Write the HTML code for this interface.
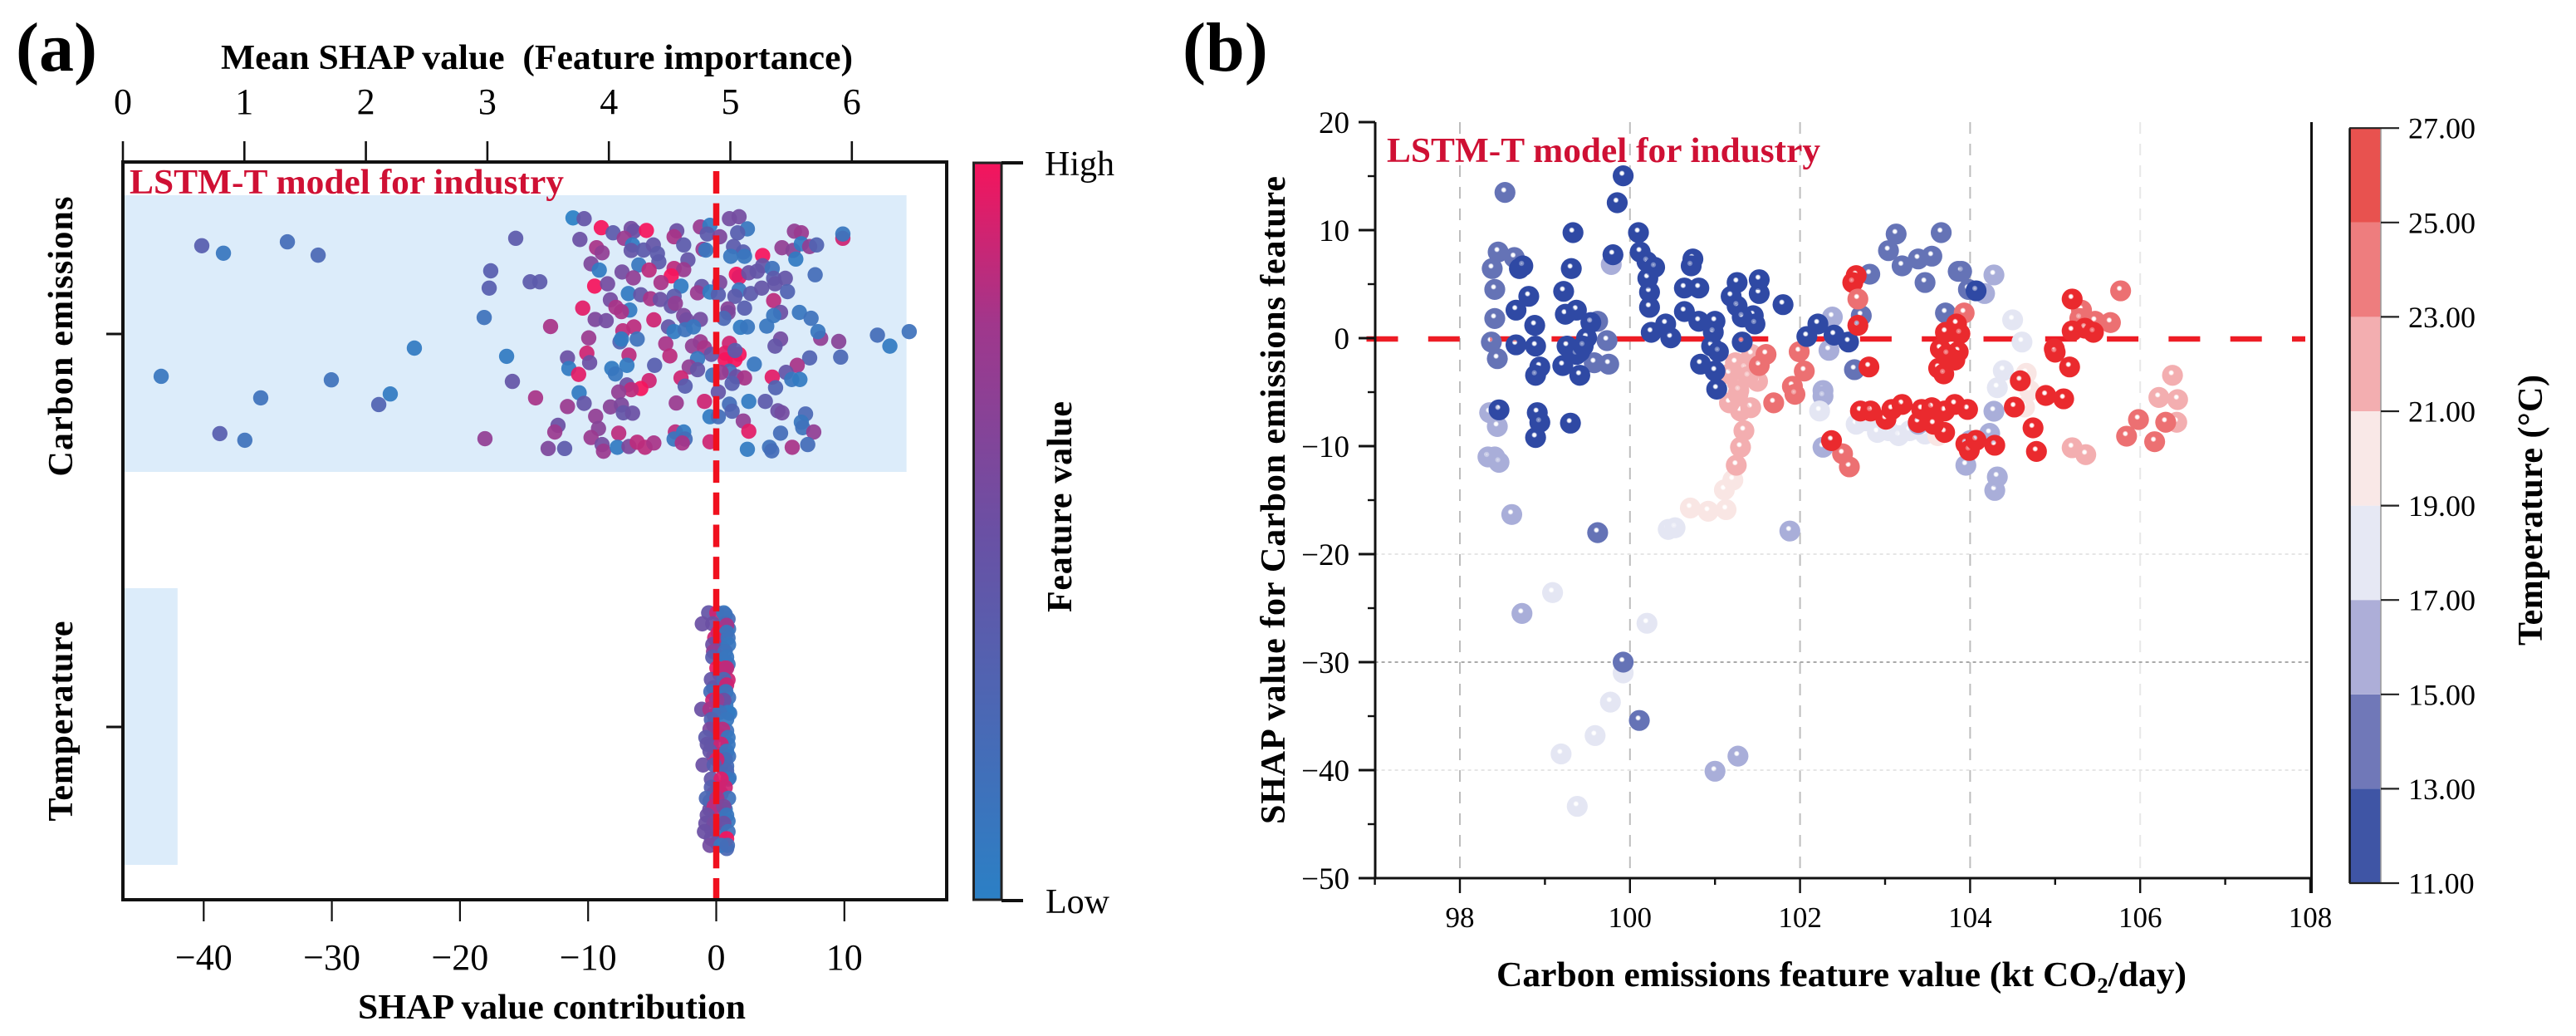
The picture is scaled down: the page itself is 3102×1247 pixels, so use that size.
<!DOCTYPE html>
<html lang="en">
<head>
<meta charset="utf-8">
<title>SHAP summary and dependence plots</title>
<style>
html,body{margin:0;padding:0;background:#fff;}
svg{display:block;font-family:"Liberation Serif",serif;}
.b{font-weight:bold;}
</style>
</head>
<body>
<svg id="fig" xmlns="http://www.w3.org/2000/svg" width="3102" height="1247" viewBox="0 0 3102 1247">
<defs id="defs">
<linearGradient id="featureGrad" x1="0" y1="1" x2="0" y2="0">
<stop offset="0" stop-color="#2b80c5"/>
<stop offset="0.5" stop-color="#6a50a4"/>
<stop offset="0.78" stop-color="#a0378c"/>
<stop offset="1" stop-color="#f5145c"/>
</linearGradient>
</defs>
<rect width="3102" height="1247" fill="#fff"/>

<text class="b" x="19" y="85" font-size="84">(a)</text>
<text class="b" x="1424" y="85" font-size="84">(b)</text>

<g id="panelA"></g>
<g id="panelB"></g>

<text class="b" x="266" y="83" font-size="42" textLength="761" lengthAdjust="spacingAndGlyphs">Mean SHAP value&#160;&#160;(Feature importance)</text>
<text class="b" x="431" y="1226" font-size="42" textLength="467" lengthAdjust="spacingAndGlyphs">SHAP value contribution</text>
<text class="b" transform="translate(1290,737) rotate(-90)" font-size="42" textLength="254" lengthAdjust="spacing">Feature value</text>
<text x="1258" y="211" font-size="42">High</text>
<text x="1259" y="1099" font-size="42">Low</text>
<text class="b" x="156" y="233" font-size="42" fill="#cf1034" textLength="523" lengthAdjust="spacingAndGlyphs">LSTM-T model for industry</text>

<text class="b" x="1670" y="195" font-size="42" fill="#cf1034" textLength="522" lengthAdjust="spacingAndGlyphs">LSTM-T model for industry</text>
<text class="b" x="1802" y="1187" font-size="42" textLength="831" lengthAdjust="spacingAndGlyphs">Carbon emissions feature value (kt CO<tspan font-size="26" dy="8">2</tspan><tspan dy="-8">/day)</tspan></text>
<text class="b" transform="translate(1547,992) rotate(-90)" font-size="42" textLength="780" lengthAdjust="spacing">SHAP value for Carbon emissions feature</text>
<text class="b" transform="translate(3061,777) rotate(-90)" font-size="42" textLength="326" lengthAdjust="spacing">Temperature (°C)</text>
</svg>

<script>
// ---------- Panel (a) data ----------
const categories = ['Carbon emissions', 'Temperature'];
const meanShapValues = [6.45, 0.45];
const meanAxisTicks = [0, 1, 2, 3, 4, 5, 6];
const shapAxisTicks = [-40, -30, -20, -10, 0, 10];

const carbonShap = [
-40.15,-38.46,-33.47,-31.07,-15.65,-17.60,-17.72,-14.52,-13.77,-18.11,-12.93,-23.56,-16.36,-30.04,-15.91,-25.44,-26.34,-14.10,-43.32,-35.55,-38.74,-36.79,-18.05,-12.35,-13.12,-12.60,
-11.18,-10.31,-8.97,-8.05,-10.64,-6.64,-6.43,-7.18,-5.45,-3.08,-3.29,-1.24,-0.49,-0.70,0.27,-2.54,1.03,1.78,2.43,1.67,6.10,6.64,9.88,9.88,
-9.34,-8.91,-6.53,-6.64,-5.67,-4.91,-4.59,-1.03,-0.81,1.35,2.11,1.13,2.21,3.62,5.13,5.99,6.64,7.29,7.83,6.21,-2.21,-4.48,
-9.77,-9.13,-7.35,-6.04,-5.24,-3.29,-2.54,-3.51,-6.47,1.57,1.78,2.54,3.19,3.62,4.37,7.72,4.48,5.39,-4.31,-2.75,
-9.49,-8.48,-1.13,0.27,-1.46,-0.49,0.16,1.78,1.46,2.69,3.55,4.59,5.56,-6.86,-5.89,-5.13,-4.37,-3.29,-8.26,-7.83,
-3.51,-3.19,4.48,-6.75,-7.40,-10.42,0.92,2.21,0.92,0.59,5.02,4.48,6.49,7.40,3.94,-9.45,-8.59,-4.87,-2.54,-2.32,-1.24,
-3.73,-3.29,-2.43,-1.78,1.89,2.43,-6.43,-7.29,-9.95,-7.51,-7.40,-6.17,8.15,7.94,9.56,12.58,13.55,15.06,
-3.94,-1.24,-1.85,-0.92,1.03,5.02,4.59,-10.10,-6.81,-3.62,1.78,0.70,1.46,0.70,1.46,-0.38,-1.46,7.29,9.71,-11.61,-9.88,
-6.97,-8.15,-11.50,-4.81,2.97,6.32,5.45,-2.11,-1.46,-10.74,-7.87,1.03,-0.27,0.38,1.57,2.21,4.37,-2.75,5.89,6.53,
-5.24,-6.97,-5.89,-6.64,-7.61,-2.43,1.24,4.63,-10.70,0.16,
-11.61,-10.31,-3.12,-0.92,1.03,2.54,3.83,-8.26,-7.40,-7.25,-6.53,4.81,5.13,1.24,-0.49,0.16,6.97,
-9.41,2.11,6.64,6.75,-9.19,-9.77,-7.61,2.54,5.02,7.61,-3.19,-2.54,-3.29,-2.43,-2.65,-0.49,
-8.91,-8.80,-7.72,-6.81,-6.17,-5.56,-4.87,-11.83,2.43,4.16,4.33,5.93,7.14
];
const carbonJitter = [
-0.225,-0.206,-0.235,-0.201,-0.244,-0.161,-0.117,-0.133,-0.133,-0.042,-0.019,0.036,0.057,0.117,0.121,0.153,0.180,0.163,0.108,0.163,0.254,0.271,0.267,0.233,0.292,0.250,
-0.296,-0.294,-0.271,-0.258,-0.241,-0.269,-0.262,-0.244,-0.264,-0.263,-0.248,-0.273,-0.277,-0.255,-0.248,-0.227,-0.294,-0.299,-0.268,-0.258,-0.262,-0.258,-0.244,-0.255,
-0.220,-0.207,-0.227,-0.213,-0.214,-0.227,-0.205,-0.216,-0.214,-0.223,-0.209,-0.198,-0.198,-0.200,-0.220,-0.213,-0.230,-0.223,-0.227,-0.191,-0.189,-0.184,
-0.179,-0.163,-0.158,-0.176,-0.163,-0.167,-0.164,-0.148,-0.143,-0.152,-0.145,-0.156,-0.160,-0.174,-0.167,-0.151,-0.142,-0.142,-0.131,-0.122,
-0.122,-0.128,-0.121,-0.131,-0.105,-0.107,-0.100,-0.112,-0.096,-0.103,-0.117,-0.128,-0.108,-0.103,-0.100,-0.090,-0.088,-0.096,-0.087,-0.068,
-0.071,-0.078,-0.085,-0.061,-0.057,-0.066,-0.064,-0.066,-0.054,-0.040,-0.055,-0.047,-0.055,-0.040,-0.020,-0.037,-0.034,-0.036,-0.047,-0.036,-0.037,
-0.018,-0.006,-0.011,-0.018,-0.017,-0.018,-0.018,-0.008,0.010,0.020,0.013,0.013,0.011,-0.006,0.019,0.003,0.031,-0.006,
0.025,0.020,0.031,0.035,0.024,0.013,0.031,0.049,0.054,0.056,0.052,0.049,0.066,0.066,0.042,0.052,0.063,0.061,0.059,0.061,0.073,
0.080,0.088,0.088,0.080,0.077,0.080,0.098,0.084,0.091,0.103,0.102,0.095,0.105,0.098,0.109,0.112,0.110,0.112,0.116,0.116,
0.119,0.130,0.139,0.142,0.148,0.133,0.126,0.137,0.150,0.148,
0.185,0.177,0.176,0.172,0.179,0.172,0.172,0.186,0.181,0.201,0.202,0.196,0.201,0.197,0.211,0.211,0.204,
0.210,0.222,0.225,0.239,0.241,0.264,0.253,0.248,0.253,0.250,0.250,0.250,0.268,0.268,0.278,0.275,
0.282,0.299,0.289,0.287,0.276,0.289,0.278,0.292,0.294,0.289,0.298,0.289,0.282
];
const carbonFeature = [
0.35,0.10,0.20,0.25,0.40,0.35,0.35,0.40,0.40,0.15,0.80,0.05,0.05,0.15,0.45,0.05,0.30,0.80,0.10,0.15,0.35,0.15,0.70,0.50,0.60,0.75,
0.00,0.45,1.00,0.40,0.50,0.55,0.50,0.75,1.00,0.50,0.80,0.75,0.05,0.40,0.60,0.40,0.55,0.55,0.10,0.35,0.70,0.75,0.90,0.10,
0.80,0.70,0.05,0.45,0.40,0.45,0.40,0.75,0.10,0.40,0.35,0.10,0.10,1.00,0.70,0.65,0.05,0.70,0.30,0.05,0.45,0.40,
0.60,0.05,0.55,0.10,0.85,0.85,0.75,1.00,0.70,1.00,0.95,0.50,0.45,0.45,0.15,0.20,0.40,0.45,0.80,0.05,
1.00,0.55,0.45,0.60,0.75,0.05,0.35,0.10,0.40,0.40,0.45,0.45,0.30,0.05,0.45,0.80,0.50,0.40,0.55,0.80,
0.45,0.70,0.85,0.05,0.80,0.95,0.65,0.35,0.60,0.25,0.50,0.10,0.10,0.15,0.10,0.60,0.55,0.90,0.60,0.55,0.55,
0.45,0.05,0.15,0.10,0.05,0.10,0.85,0.85,0.75,0.30,0.05,0.15,0.70,0.10,0.65,0.20,0.05,0.15,
0.80,0.75,0.70,0.80,0.90,0.55,0.45,0.90,0.85,0.85,1.00,0.95,1.00,1.00,0.40,0.45,0.10,0.30,0.25,0.50,0.50,
0.05,0.05,0.05,0.35,0.10,0.80,0.45,0.70,0.45,0.95,0.10,0.20,0.15,0.75,0.50,0.80,0.95,0.90,0.10,0.05,
0.90,0.50,1.00,0.85,0.70,0.35,0.35,0.30,0.05,0.45,
0.75,0.45,0.75,0.90,0.20,0.05,0.40,0.65,0.60,0.45,0.50,0.50,0.55,0.30,0.05,0.20,0.25,
0.70,0.70,0.10,0.15,0.65,0.75,0.85,0.95,0.20,0.70,0.85,0.05,0.10,0.20,0.80,0.90,
0.55,0.75,0.05,0.60,0.85,0.85,0.80,0.40,0.05,0.15,0.20,0.80,0.20
];

const tempShap = [
0.92,0.96,0.27,0.49,0.38,0.92,0.27,0.92,0.38,-0.20,0.96,0.38,0.75,1.05,-0.16,-0.20,0.81,0.16,0.92,-0.38,0.38,0.96,-0.20,0.81,0.38,1.00,-0.20,0.38,0.30,-0.49,0.70,-0.50,0.92,-0.38,0.30,0.05,0.81,
-0.59,0.05,0.59,0.70,-1.09,-0.27,0.70,0.81,0.16,0.81,-0.12,0.92,-0.27,0.96,-0.21,0.70,-0.27,0.81,0.70,0.05,0.70,0.81,-0.38,0.59,0.81,-0.42,0.75,0.59,-0.27,0.05,-1.13,-0.49,0.92,0.27,0.81,-0.38,-0.49,0.49,0.92,-0.81,-0.70,0.38,0.81,-0.49,0.70,0.05,-1.03,-0.16,0.81,0.92,-0.38,0.38,0.16,-0.38,0.70,-0.77,0.96,0.05,-0.16,0.59,0.81,-0.70,-0.81,-0.16,0.59,-0.92,0.92,0.81,-0.38,-0.49,0.38,0.87
];
const tempJitter = [
-0.275,-0.250,-0.220,-0.200,-0.175,-0.160,-0.135,-0.120,-0.105,-0.100,-0.075,-0.050,-0.055,-0.035,-0.030,-0.005,0.010,0.020,0.045,0.045,0.070,0.075,0.075,0.100,0.100,0.130,0.170,0.170,0.210,0.190,0.210,0.210,0.240,0.260,0.270,0.295,0.310,
-0.291,-0.291,-0.291,-0.287,-0.263,-0.263,-0.263,-0.259,-0.241,-0.241,-0.227,-0.227,-0.210,-0.210,-0.192,-0.192,-0.178,-0.178,-0.167,-0.150,-0.150,-0.150,-0.121,-0.121,-0.107,-0.090,-0.090,-0.068,-0.068,-0.068,-0.045,-0.045,-0.037,-0.037,-0.019,-0.019,0.006,0.006,0.027,0.027,0.044,0.044,0.062,0.062,0.083,0.083,0.097,0.097,0.112,0.133,0.133,0.133,0.154,0.154,0.154,0.182,0.182,0.182,0.203,0.203,0.225,0.225,0.246,0.246,0.246,0.267,0.267,0.285,0.285,0.302,0.302,0.302
];
const tempFeature = [
0.20,0.15,0.90,0.20,0.85,0.10,0.85,0.90,0.20,0.30,0.15,0.40,0.10,0.10,0.85,0.35,0.15,0.85,0.10,0.50,0.50,0.15,0.90,0.20,0.25,0.10,0.90,0.90,0.90,0.30,0.10,0.50,0.10,0.55,0.20,0.10,0.25,
0.45,0.90,0.10,0.15,0.50,0.50,0.20,0.80,0.95,0.10,0.90,0.15,0.50,0.10,0.70,0.15,0.35,0.10,0.10,0.95,0.95,0.85,0.45,0.25,0.90,0.20,0.10,0.50,0.90,0.70,0.50,0.80,0.05,0.15,0.10,0.30,0.60,0.85,0.10,0.40,0.45,0.90,0.10,0.45,0.20,0.90,0.50,0.35,0.25,0.10,0.45,0.95,0.95,0.35,0.90,0.25,0.15,0.80,0.85,0.60,0.10,0.50,0.50,0.55,0.50,0.50,0.15,1.00,0.50,0.55,0.10,0.20
];

// ---------- Panel (b) data ----------
const featureTicksMajor = [98, 100, 102, 104, 106, 108];
const featureTicksMinor = [97, 99, 101, 103, 105, 107];
const featureGrid = [98, 100, 102, 104, 106];
const dependenceTicksMajor = [-50, -40, -30, -20, -10, 0, 10, 20];
const dependenceTicksMinor = [-45, -35, -25, -15, -5, 5, 15];
const temperatureEdges = [11, 13, 15, 17, 19, 21, 23, 25, 27];
const temperatureLabels = ['11.00','13.00','15.00','17.00','19.00','21.00','23.00','25.00','27.00'];

const depFeature = [
99.09,99.77,99.59,99.19,99.38,100.2,99.92,100.45,100.53,100.71,100.92,101.13,101.11,101.21,101.25,101.30,101.34,101.30,101.17,101.42,101.27,101.50,101.24,101.35,101.26,101.39,101.28,101.17,101.43,
102.66,102.77,102.91,103.04,103.16,103.29,103.47,103.62,104.50,104.61,104.39,104.32,104.66,104.70,104.64,105.20,105.36,106.38,106.22,106.44,106.43,
101.60,101.52,101.99,102.05,101.91,101.69,101.94,102.50,102.58,105.31,105.29,105.65,105.47,105.77,105.98,106.30,105.84,106.17,
98.35,98.44,98.41,98.33,98.46,98.61,98.73,101.27,101.0,101.88,99.78,102.38,102.34,102.27,102.27,102.27,102.23,103.39,103.95,104.0,104.28,104.17,104.28,104.23,104.32,104.29,
98.53,98.45,98.64,98.38,98.41,98.41,98.37,98.44,99.62,99.73,99.75,99.58,102.82,103.13,103.04,103.20,103.39,103.55,103.66,103.47,103.86,103.98,103.71,102.72,99.62,100.11,99.92,103.90,102.64,
99.92,99.85,99.33,100.10,100.12,100.20,100.29,98.70,98.74,99.31,98.81,98.66,98.88,99.22,99.24,99.37,99.54,98.66,98.89,99.49,99.26,99.41,99.37,99.45,98.94,98.89,99.21,99.41,99.80,100.21,100.23,100.23,100.25,100.42,100.48,
100.74,100.72,100.64,100.81,100.64,100.81,101.0,100.98,100.96,101.04,100.83,101.0,101.02,101.26,101.52,101.19,101.52,101.26,101.45,101.32,101.47,101.80,101.32,102.21,102.08,102.40,102.57,
98.46,98.91,98.94,98.89,99.30,104.07,
102.66,102.62,102.68,102.68,103.93,103.84,103.88,103.71,103.65,103.86,103.63,103.82,103.69,103.73,102.81,102.37,102.71,102.83,103.01,103.08,103.20,103.39,103.43,103.55,103.70,103.82,103.97,103.70,103.95,103.99,103.57,
105.20,105.35,105.20,105.45,104.99,105.0,105.17,104.59,104.89,105.10,104.52,104.74,104.29,104.78,104.07
];
const depShap = [
-23.56,-33.7,-36.8,-38.5,-43.35,-26.4,-31.0,-17.71,-17.56,-15.73,-16.03,-15.88,-14.05,-13.14,-11.77,-10.1,-8.57,-6.75,-5.99,-6.44,-5.2,-4.0,-2.28,-2.79,-4.08,-3.56,-4.85,-3.31,-1.51,
-7.97,-7.66,-8.73,-8.57,-9.03,-8.57,-8.88,-9.03,1.69,-0.36,-3.0,-4.59,-3.26,-4.85,-6.38,-10.15,-10.79,-3.44,-5.49,-5.69,-7.79,
-1.51,-2.54,-1.26,-3.05,-4.46,-5.99,-5.2,-10.71,-11.92,2.59,1.82,1.44,1.56,4.38,-7.54,-7.79,-9.08,-9.59,
-6.9,-8.18,-11.0,-11.0,-11.5,-16.33,-25.49,-38.7,-40.1,-17.86,6.82,1.95,-1.13,-4.85,-5.38,-10.10,-6.75,-7.97,-11.77,-9.49,5.85,4.13,-6.77,-8.82,-12.85,-14.1,
13.49,7.97,7.46,6.44,4.51,1.82,-0.36,-1.9,1.56,-0.23,-2.41,-2.28,5.92,9.64,8.10,6.69,7.33,7.59,9.77,5.15,6.18,4.51,2.33,2.08,-18.01,-35.4,-30.0,6.18,-2.92,
15.03,12.54,9.77,9.77,7.97,7.08,6.56,6.44,6.69,6.44,3.87,2.59,1.18,4.33,2.21,2.59,1.44,-0.62,-0.74,0.03,-0.74,-1.26,-1.51,-0.74,-2.67,-3.44,-2.54,-3.44,7.72,5.54,4.26,2.85,0.54,1.31,0.03,
7.33,6.69,4.64,4.64,2.46,1.56,1.56,0.54,-0.74,-1.26,-2.41,-3.05,-4.72,5.15,5.41,3.87,4.13,2.97,2.08,1.95,1.31,3.10,-0.36,1.31,0.15,0.28,-0.36,
-6.64,-6.9,-7.8,-9.2,-7.87,4.38,
5.79,5.15,3.62,1.18,2.33,1.31,0.41,0.54,-1.0,-1.26,-2.79,-2.03,-3.31,-1.51,-2.67,-9.49,-6.75,-6.75,-7.51,-6.60,-6.14,-7.81,-6.60,-6.44,-6.75,-6.14,-6.60,-8.73,-9.79,-10.40,-7.97,
3.62,0.92,0.67,0.54,-1.0,-1.3,-2.67,-3.95,-5.31,-5.62,-6.38,-8.31,-9.92,-10.49,-9.46
];
const depTemperature = [
18,18,18,18,18,18,18,18,18,19,19.5,19.5,20,20,21,22,22.5,22,22,22,21,22,22,22,22,22,22,22,22,
18,18,18,18,17.5,17.5,18,19,18,18,18,18,20,20,20,21.5,21.5,22,22,22,22,
23.5,24,24,23.5,23.5,24,24,24,24.5,24,24,23.5,24.5,24,24,23.5,24,24,
16,16,15,15,15,15,15,15,15,15,15,16,16,16,15,16,17,16,15,15,16,15,15.5,15,16,16,
14,14,14,14,14,14,14,14,14,14,14,14,14,14,14,14,14,14,14,14,14,14,14,14,14,13,13,13,13,
12,12,12,12,12,12,12,12,12,12,12,12,12,12,12,12,12,12,12,12,12,12,12,12,12,12,12,12,12,12,12,12,12,12,12,
12,12,12,12,12,12,12,12,12,12,12,12,12,12,12,12,12,12,12,12,12,12,12,12,12,12,12,
12,12,12,12,12,12,
25.5,26,24.5,26,24.5,25.5,26,26,26,26,26,26,26,26,25.5,25,25.5,25,25,25.5,25.5,26,25,25,25.5,25,25,25,26,26,25,
25.5,25,25,25,26,26,25.5,26,25.5,25.5,25,25.5,26,25.5,25
];

// ---------- Axis functions ----------
const xMean = v => 148 + 146.3 * v;
const xContribution = v => 862.5 + 15.43 * v;
const yCategory = c => 402 + 473 * c;
const JITTER_SCALE = 472;
const xFeature = v => 1758 + 102.4 * (v - 98);
const yDependence = v => 407 - 13 * v;
const yTemperature = t => 1063 - 56.8 * (t - 11);

// ---------- Colours ----------
const temperatureColors = ['#3f55a5','#7078b8','#adaed8','#e6e8f4','#f9e8e7','#f3aeb0','#ee7d7e','#e8524f'];
const sphereColors = ['#2f49a4','#6573b6','#a9aed9','#e4e6f3','#f9e6e4','#f3aeb0','#ec7072','#ea2a2e'];
function lerp(a, b, t) { return a + (b - a) * t; }
function featureColor(f) {
  const s = [[0, 43, 128, 197], [0.5, 106, 80, 164], [0.78, 160, 55, 140], [1, 245, 20, 92]];
  for (let i = 1; i < s.length; i++) {
    if (f <= s[i][0]) {
      const t = (f - s[i - 1][0]) / (s[i][0] - s[i - 1][0]);
      return 'rgb(' + [1, 2, 3].map(k => Math.round(lerp(s[i - 1][k], s[i][k], t))).join(',') + ')';
    }
  }
  return 'rgb(245,20,92)';
}
function temperatureBin(t) {
  const last = temperatureColors.length - 1;
  return Math.max(0, Math.min(last, Math.floor((t - temperatureEdges[0]) / 2)));
}

// ---------- SVG helpers ----------
const NS = 'http://www.w3.org/2000/svg';
function make(tag, attrs, parent, txt) {
  const n = document.createElementNS(NS, tag);
  for (const k in attrs) n.setAttribute(k, attrs[k]);
  if (txt !== undefined) n.textContent = txt;
  parent.appendChild(n);
  return n;
}
const A = document.getElementById('panelA');
const B = document.getElementById('panelB');
const defs = document.getElementById('defs');

sphereColors.forEach(function (c, i) {
  const g = make('radialGradient', { id: 'sphere' + i, cx: '0.44', cy: '0.38', r: '0.68' }, defs);
  make('stop', { offset: '0', 'stop-color': '#ffffff', 'stop-opacity': '0.7' }, g);
  make('stop', { offset: '0.09', 'stop-color': '#ffffff', 'stop-opacity': '0.35' }, g);
  make('stop', { offset: '0.2', 'stop-color': c }, g);
  make('stop', { offset: '1', 'stop-color': c }, g);
});

// ---------- Panel (a): mean bars ----------
categories.forEach(function (name, c) {
  const r = make('rect', { x: xMean(0), y: yCategory(c) - 167, width: xMean(meanShapValues[c]) - xMean(0), height: 333, fill: '#dcecfa' }, A);
  
  
});

// ---------- Panel (a): beeswarm ----------
function swarm(c, shap, jitter, feature, label) {
  shap.forEach(function (v, i) {
    const p = make('circle', { cx: xContribution(v), cy: yCategory(c) + jitter[i] * JITTER_SCALE, r: 9.2, fill: featureColor(feature[i]), opacity: 0.93 }, A);
    
    
  });
}
swarm(0, carbonShap, carbonJitter, carbonFeature, 'carbon-shap-point');
swarm(1, tempShap, tempJitter, tempFeature, 'temperature-shap-point');

// Zero line (a)
const zeroA = make('line', { x1: xContribution(0), x2: xContribution(0), y1: 206, y2: 1084, stroke: '#f0101e', 'stroke-width': 7.5, 'stroke-dasharray': '27 11.68' }, A);



// Frame (a)
const frameA = make('rect', { x: 148, y: 195, width: 992, height: 888, fill: 'none', stroke: '#111', 'stroke-width': 4 }, A);



// Ticks (a)
meanAxisTicks.forEach(function (v) {
  const t = make('line', { x1: xMean(v), x2: xMean(v), y1: 170, y2: 195, stroke: '#111', 'stroke-width': 2.6 }, A);
  
  
  const l = make('text', { x: xMean(v), y: 137, 'text-anchor': 'middle', 'font-size': 44 }, A, String(v));
  
  
});
shapAxisTicks.forEach(function (v) {
  const t = make('line', { x1: xContribution(v), x2: xContribution(v), y1: 1083, y2: 1109, stroke: '#111', 'stroke-width': 2.2 }, A);
  
  
  const l = make('text', { x: xContribution(v), y: 1167, 'text-anchor': 'middle', 'font-size': 44 }, A, v < 0 ? '\u2212' + Math.abs(v) : String(v));
  
  
});
const categoryLength = [337, 241];
categories.forEach(function (name, c) {
  const t = make('line', { x1: 128, x2: 148, y1: yCategory(c), y2: yCategory(c), stroke: '#111', 'stroke-width': 3 }, A);
  
  
  const cy = c === 0 ? 405 : 868;
  const l = make('text', { transform: 'translate(87,' + (cy + categoryLength[c] / 2) + ') rotate(-90)', 'font-size': 42, 'font-weight': 'bold', textLength: categoryLength[c], lengthAdjust: 'spacing' }, A, name);
  
  
});

// Colorbar (a)
const cbA = make('rect', { x: 1172.5, y: 196, width: 33.5, height: 887, fill: 'url(#featureGrad)', stroke: '#222', 'stroke-width': 3 }, A);


[196, 1084].forEach(function (y) {
  const t = make('line', { x1: 1206, x2: 1232, y1: y, y2: y, stroke: '#111', 'stroke-width': 4 }, A);
  
  
});

// ---------- Panel (b): grid ----------
featureGrid.forEach(function (v) {
  const g = make('line', { x1: xFeature(v), x2: xFeature(v), y1: 147, y2: 1057, stroke: v === 106 ? '#e8e8e8' : '#bdbdbd', 'stroke-width': 2, 'stroke-dasharray': '14 12' }, B);
  
  
});
[-20, -30, -40].forEach(function (v) {
  const g = make('line', { x1: xFeature(97), x2: xFeature(108), y1: yDependence(v), y2: yDependence(v), stroke: v === -30 ? '#aaaaaa' : '#e6e6e6', 'stroke-width': 2, 'stroke-dasharray': '4 4' }, B);
  
  
});

// Zero line (b)
const zeroB = make('line', { x1: 1645.5, x2: 2776, y1: yDependence(0) + 1, y2: yDependence(0) + 1, stroke: '#ee1c25', 'stroke-width': 6.5, 'stroke-dasharray': '38 36.3' }, B);



// Points (b)
depFeature.forEach(function (v, i) {
  const p = make('circle', { cx: xFeature(v), cy: yDependence(depShap[i]), r: 12.6, fill: 'url(#sphere' + temperatureBin(depTemperature[i]) + ')' }, B);
  
  
});

// Axes (b)
[[1656, 147, 1656, 1057], [1655, 1057, 2784, 1057], [2783.5, 147, 2783.5, 1075]].forEach(function (d) {
  const a = make('line', { x1: d[0], y1: d[1], x2: d[2], y2: d[3], stroke: '#111', 'stroke-width': 3 }, B);
  
  
});
featureTicksMajor.forEach(function (v) {
  const t = make('line', { x1: xFeature(v), x2: xFeature(v), y1: 1057, y2: 1075, stroke: '#111', 'stroke-width': 2.4 }, B);
  
  
  const l = make('text', { x: xFeature(v), y: 1116, 'text-anchor': 'middle', 'font-size': 35 }, B, String(v));
  
  
});
featureTicksMinor.forEach(function (v) {
  const t = make('line', { x1: xFeature(v), x2: xFeature(v), y1: 1057, y2: 1065, stroke: '#111', 'stroke-width': 2.4 }, B);
  
  
});
dependenceTicksMajor.forEach(function (v) {
  const t = make('line', { x1: 1636, x2: 1656, y1: yDependence(v), y2: yDependence(v), stroke: '#111', 'stroke-width': 3 }, B);
  
  
  const l = make('text', { x: 1625, y: yDependence(v) + 13, 'text-anchor': 'end', 'font-size': 37 }, B, v < 0 ? '\u2212' + Math.abs(v) : String(v));
  
  
});
dependenceTicksMinor.forEach(function (v) {
  const t = make('line', { x1: 1647, x2: 1656, y1: yDependence(v), y2: yDependence(v), stroke: '#111', 'stroke-width': 2.4 }, B);
  
  
});

// Colorbar (b)
temperatureColors.forEach(function (c, i) {
  const top = yTemperature(temperatureEdges[i + 1]);
  const bottom = yTemperature(temperatureEdges[i]);
  const r = make('rect', { x: 2829, y: top, width: 38, height: bottom - top, fill: c }, B);
  
  
});
const cbLeft = make('line', { x1: 2829.5, x2: 2829.5, y1: yTemperature(27), y2: yTemperature(11), stroke: '#111', 'stroke-width': 2.5 }, B);


const cbRight = make('line', { x1: 2867, x2: 2867, y1: yTemperature(27), y2: yTemperature(11), stroke: '#999', 'stroke-width': 1.5 }, B);


temperatureEdges.forEach(function (t, i) {
  const full = i === 0 || i === temperatureEdges.length - 1;
  const k = make('line', { x1: full ? 2829 : 2867, x2: 2889, y1: yTemperature(t), y2: yTemperature(t), stroke: '#222', 'stroke-width': 2.2 }, B);
  
  
  const l = make('text', { x: 2900, y: yTemperature(t) + 12.5, 'font-size': 36 }, B, temperatureLabels[i]);
  
  
});
</script>
</body>
</html>
